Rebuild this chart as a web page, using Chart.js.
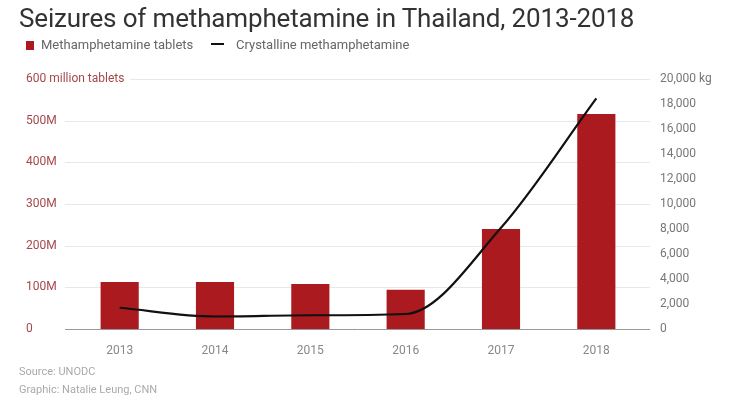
<!DOCTYPE html>
<html>
<head>
<meta charset="utf-8">
<script src="https://cdn.jsdelivr.net/npm/chart.js@4"></script>
<style>
    body { margin: 0; background: #fff; font-family: Roboto, "Noto Sans", sans-serif; }
    #wrap { position: relative; width: 730px; height: 396px; overflow: hidden; }
    #chart_seizures { position: absolute; left: 0; top: 0; }
    .title { position: absolute; left: 19px; top: 3px; font-size: 26px; color: #333; white-space: nowrap; letter-spacing: -0.15px; }
    .legend { position: absolute; top: 37px; font-size: 13px; color: #666; white-space: nowrap; }
    .legend .sw-bar { display: inline-block; width: 8px; height: 9px; background: #ab1a1e; margin-right: 7px; vertical-align: -1px; }
    .legend .sw-line { display: inline-block; width: 13px; height: 2px; background: #111; margin-right: 12px; vertical-align: 4px; }
    .foot { position: absolute; left: 19px; font-size: 11px; color: #aaa; white-space: nowrap; }
</style>
</head>
<body>
<div id="wrap">
    <canvas id="chart_seizures" width="730" height="396"></canvas>
    <div class="title">Seizures of methamphetamine in Thailand, 2013-2018</div>
    <div class="legend" style="left:26px;"><span class="sw-bar"></span>Methamphetamine tablets</div>
    <div class="legend" style="left:211px;"><span class="sw-line"></span>Crystalline methamphetamine</div>
    <div class="foot" style="top:365px;">Source: UNODC</div>
    <div class="foot" style="top:383px;">Graphic: Natalie Leung, CNN</div>
</div>
<script>
// values
const years = ["2013", "2014", "2015", "2016", "2017", "2018"];
const tabletsMillions = [113, 113, 108, 94, 240, 516];
const crystalKg = [1700, 1000, 1100, 1200, 8100, 18450];

const tabletTicks = [0, 100, 200, 300, 400, 500, 600];
const topTabletLabel = "600 million tablets";

// grid lines run a bit wider than the category area
const gridPlugin = {
    id: "gridLines",
    beforeDatasetsDraw(chart) {
        let ctx = chart.ctx;
        let yL = chart.scales.yL;
        ctx.save();
        tabletTicks.forEach(v => {
            let y = Math.round(yL.getPixelForValue(v)) + 0.5;
            let x0 = v === 600 ? 130 : 65;
            ctx.strokeStyle = v === 0 ? "#999" : "#e8e8e8";
            ctx.lineWidth = 1;
            ctx.beginPath();
            ctx.moveTo(x0, y);
            ctx.lineTo(650, y);
            ctx.stroke();
        });
        // the long top label does not fit the axis box, so draw it here
        ctx.fillStyle = "#a5474b";
        ctx.font = "12px Roboto";
        ctx.textAlign = "left";
        ctx.textBaseline = "middle";
        ctx.fillText(topTabletLabel, 26, yL.getPixelForValue(600));
        ctx.restore();
    }
};

let ctx = document.getElementById("chart_seizures").getContext("2d");
new Chart(ctx, {
    data: {
        labels: years,
        datasets: [
            {
                type: "line",
                label: "Crystalline methamphetamine",
                data: crystalKg,
                yAxisID: "yR",
                borderColor: "#111",
                borderWidth: 2.2,
                pointRadius: 0,
                cubicInterpolationMode: "monotone",
                order: 0
            },
            {
                type: "bar",
                label: "Methamphetamine tablets",
                data: tabletsMillions,
                yAxisID: "yL",
                backgroundColor: "#ab1a1e",
                barPercentage: 0.4,
                categoryPercentage: 1,
                order: 1
            }
        ]
    },
    options: {
        responsive: false,
        animation: false,
        layout: { padding: { left: 26, right: 0, top: 79, bottom: 37 } },
        plugins: { legend: { display: false }, tooltip: { enabled: false } },
        scales: {
            x: {
                grid: { display: false, drawTicks: false },
                border: { display: false },
                ticks: { color: "#888", font: { size: 12, family: "Roboto" }, padding: 15 },
                afterFit(scale) { scale.height = 30; }
            },
            yL: {
                position: "left",
                min: 0, max: 600,
                grid: { display: false, drawTicks: false },
                border: { display: false },
                ticks: {
                    stepSize: 100,
                    crossAlign: "far",
                    color: "#a5474b",
                    font: { size: 12, family: "Roboto" },
                    callback: v => v === 600 ? "" : (v === 0 ? "0" : v + "M")
                },
                afterFit(scale) { scale.width = 46; }
            },
            yR: {
                position: "right",
                min: 0, max: 20000,
                grid: { display: false, drawTicks: false },
                border: { display: false },
                ticks: {
                    stepSize: 2000,
                    padding: 16,
                    color: "#777",
                    font: { size: 12, family: "Roboto" },
                    callback: v => v === 20000 ? "20,000 kg" : v.toLocaleString("en-US")
                },
                afterFit(scale) { scale.width = 86; }
            }
        }
    },
    plugins: [gridPlugin]
});
</script>
</body>
</html>
